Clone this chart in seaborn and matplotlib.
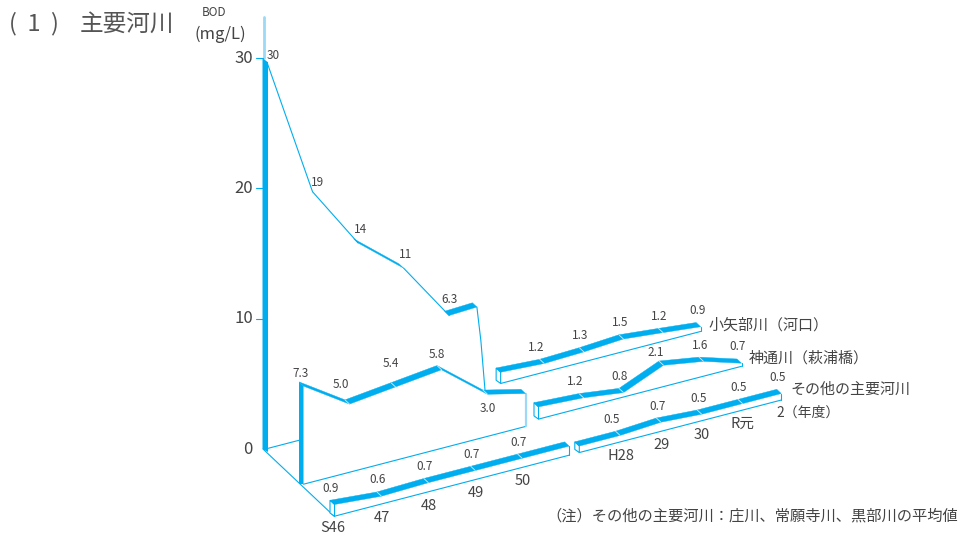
import numpy as np
import pandas as pd
import matplotlib.pyplot as plt
import seaborn as sns

years_early = ["S46", "47", "48", "49", "50"]
years_late = ["H28", "29", "30", "R元", "2"]

oyabe_early = [30, 19, 14, 11, 6.3]
oyabe_late = [1.2, 1.3, 1.5, 1.2, 0.9]
jinzu_early = [7.3, 5.0, 5.4, 5.8, 3.0]
jinzu_late = [1.2, 0.8, 2.1, 1.6, 0.7]
other_early = [0.9, 0.6, 0.7, 0.7, 0.7]
other_late = [0.5, 0.7, 0.5, 0.5, 0.5]

# heights of the broken ends either side of the axis break
oyabe_ends = [6.3, 1.4]
jinzu_ends = [2.3, 1.4]
other_ends = [0.7, 0.5]

y_ticks = [0, 10, 20, 30]

BLUE = "#00aeef"
PALE = "#9bd9f6"
GREY = "#444444"
UNIT = 13.03  # px per mg/L
SLOPE = 0.26  # rise of the floor per px
DEPTH = np.array([4.5, 4.2])

sns.set_theme(style="white")
plt.rcParams["font.family"] = ["Noto Sans CJK JP", "DejaVu Sans"]

fig = plt.figure(figsize=(9.61, 5.36), dpi=100)
ax = fig.add_axes([0, 0, 1, 1])
ax.set_xlim(0, 961)
ax.set_ylim(536, 0)
ax.axis("off")

u_early = np.array([0, 46, 92, 138, 184])
u_late = np.array([280, 320, 360, 400, 438])


def thin(xs, ys, color=BLUE, lw=0.8, z=3):
    df = pd.DataFrame({"x": xs, "y": ys})
    sns.lineplot(data=df, x="x", y="y", sort=False, estimator=None, color=color,
                 linewidth=lw, ax=ax, zorder=z, legend=False)


class Plane:
    def __init__(self, x0, y0, scale):
        self.x0, self.y0, self.scale = x0, y0, scale

    def floor(self, u):
        x = self.x0 + self.scale * np.asarray(u, dtype=float)
        return x, self.y0 - SLOPE * (x - self.x0)

    def top(self, u, v, lift=0):
        x, y = self.floor(u)
        return x, y - lift - UNIT * np.asarray(v, dtype=float)


def ribbon(xs, ys, cuts=True):
    for i in range(len(xs) - 1):
        dx, dy = xs[i + 1] - xs[i], ys[i + 1] - ys[i]
        if dy / dx > 1:  # falling steeper than the depth axis: only the near edge shows
            thin([xs[i] + DEPTH[0], xs[i + 1] + DEPTH[0]],
                 [ys[i] + DEPTH[1], ys[i + 1] + DEPTH[1]])
            continue
        ax.fill([xs[i], xs[i + 1], xs[i + 1] + DEPTH[0], xs[i] + DEPTH[0]],
                [ys[i], ys[i + 1], ys[i + 1] + DEPTH[1], ys[i] + DEPTH[1]],
                color=BLUE, lw=0.3, zorder=4)
    if cuts:
        for x, y in zip(xs[1:-1], ys[1:-1]):
            ax.plot([x, x + DEPTH[0]], [y, y + DEPTH[1]], color="#cdeefb", lw=0.6, zorder=5)


def box(plane, xs, ys, base_lift, left=True, edge=BLUE, edge_lw=0.8):
    # outline under a ribbon: floor line, end edge and small left side face
    us = (np.array([xs[0], xs[-1]]) - plane.x0) / plane.scale
    bx, by = plane.floor(us)
    by = by - base_lift
    thin(bx + DEPTH[0], by + DEPTH[1])
    thin([xs[-1] + DEPTH[0]] * 2, [ys[-1] + DEPTH[1], by[1] + DEPTH[1]], edge, edge_lw)
    if left:
        ax.fill([xs[0], xs[0] + DEPTH[0], bx[0] + DEPTH[0], bx[0]],
                [ys[0], ys[0] + DEPTH[1], by[0] + DEPTH[1], by[0] + 1],
                facecolor="white", edgecolor=BLUE, lw=0.8, zorder=3)


def labels(xs, ys, vals, offsets=None):
    offsets = offsets or {}
    for i, (x, y, v) in enumerate(zip(xs, ys, vals)):
        ox, oy = offsets.get(i, (1, -12))
        ax.text(x + ox, y + oy, f"{v:g}" if v >= 10 else f"{v:.1f}", fontsize=8.5, color=GREY,
                ha="center", va="center", zorder=6)


back = Plane(262.5, 449, 0.99)
mid = Plane(299, 484, 1.0)
front = Plane(330, 512, 1.02)

# value axis
thin([263.5, 263.5], [17, 58], PALE, 2)
for t in y_ticks:
    y = back.y0 - UNIT * t
    if t:
        thin([256, 263], [y, y])
    ax.text(253, y, str(t), fontsize=12, color=GREY, ha="right", va="center")
ax.text(214, 13, "BOD", fontsize=8.5, color=GREY, ha="center", va="center")
ax.text(220, 34, "(mg/L)", fontsize=12, color=GREY, ha="center", va="center")

# depth axis and the floor of the back plane
thin([263, 334.5], [449, 516.5])
bx, by = back.floor([0, 35])
thin(bx + 3, by)

# back plane, early years
u_back = np.r_[u_early, 212]
xs, ys = back.top(u_back, oyabe_early + oyabe_ends[:1], 0.045 * u_back)
ax.fill([xs[0], xs[0] + DEPTH[0] + 1, xs[0] + DEPTH[0] + 1, xs[0]],
        [ys[0], ys[0] + DEPTH[1], back.y0 + 3, back.y0], color=BLUE, lw=0, zorder=4)
ribbon(xs, ys, cuts=False)
labels(xs[:5], ys[:5], oyabe_early, {0: (11, -3), 1: (9, -5), 2: (7, -9), 3: (6, -9), 4: (5, -12)})
jx, jy = mid.top(u_early[-1], jinzu_early[-1], 7)
thin([xs[-1] + DEPTH[0], xs[-1] + DEPTH[0] + 4, jx + 2], [ys[-1] + DEPTH[1], ys[-1] + 38, jy])

# middle plane, early years
xs, ys = mid.top(np.r_[u_early, 222], jinzu_early + jinzu_ends[:1], 7)
ax.fill([xs[0], xs[0] + DEPTH[0], xs[0] + DEPTH[0], xs[0]],
        [ys[0], ys[0] + DEPTH[1], mid.y0, mid.y0], color=BLUE, lw=0, zorder=4)
ribbon(xs, ys)
box(mid, xs, ys, 4, left=False, edge=PALE, edge_lw=1.6)
labels(xs[:5], ys[:5], jinzu_early, {0: (2, -8), 1: (-4, -15), 2: (0, -19), 3: (0, -11), 4: (5, 18)})

# front plane, early years
xs, ys = front.top(np.r_[u_early, 230], other_early + other_ends[:1])
box(front, xs, ys, 0)
ribbon(xs, ys)
labels(xs[:5], ys[:5], other_early)

# later years on each plane
late_offsets = {0: (-4, -12)}
for plane, start, vals, ends, base_lift, lift, extra in [
    (back, 236, oyabe_late, oyabe_ends, 9, 2, {}),
    (mid, 235, jinzu_late, jinzu_ends, 8, 2, {2: (-3, -9)}),
    (front, 240, other_late, other_ends, 0, 0, {}),
]:
    xs, ys = plane.top(np.r_[start, u_late], [ends[1]] + vals, lift)
    box(plane, xs, ys, base_lift)
    ribbon(xs, ys)
    labels(xs[1:], ys[1:], vals, {**late_offsets, **extra})

# year labels under the front plane
for us, years in [(u_early, years_early), (u_late, years_late)]:
    xs, ys = front.floor(us)
    for x, y, yr in zip(xs, ys, years):
        if yr == "2":
            ax.text(x, y + 17, "2（年度）", fontsize=10, color=GREY, ha="left", va="center")
        elif yr == "S46":
            ax.text(x + 3, y + 15.5, yr, fontsize=10.5, color=GREY, ha="center", va="center")
        else:
            ax.text(x + 5, y + 18, yr, fontsize=10.5, color=GREY, ha="center", va="center")

ax.text(708, 325, "小矢部川（河口）", fontsize=10.8, color=GREY, ha="left", va="center")
ax.text(749, 358, "神通川（萩浦橋）", fontsize=10.8, color=GREY, ha="left", va="center")
ax.text(790, 390, "その他の主要河川", fontsize=10.8, color=GREY, ha="left", va="center")
ax.text(546, 516, "（注）その他の主要河川：庄川、常願寺川、黒部川の平均値", fontsize=11, color=GREY,
        ha="left", va="center")
ax.text(9, 24, "(  1  )", fontsize=17, color="#555555", ha="left", va="center")
ax.text(80, 24, "主要河川", fontsize=17, color="#555555", ha="left", va="center")

fig.savefig("out.png", dpi=100)
